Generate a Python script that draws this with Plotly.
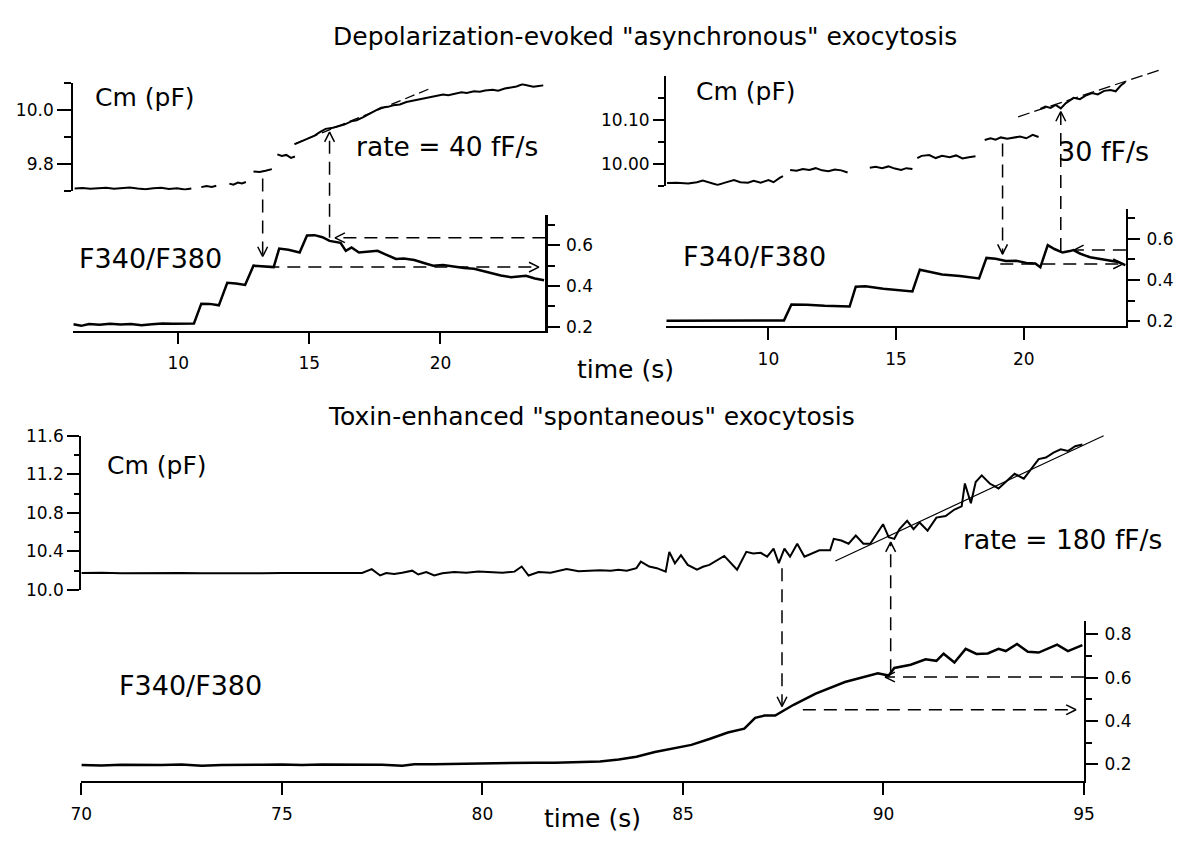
import plotly.graph_objects as go

W, H = 1184, 845
FONT = "DejaVu Sans"
INK = "black"

# ---------------- text ----------------
TITLE_TOP = 'Depolarization-evoked "asynchronous" exocytosis'
TITLE_BOTTOM = 'Toxin-enhanced "spontaneous" exocytosis'
TIME_LABEL = "time (s)"
CM_LABEL = "Cm (pF)"
F_LABEL = "F340/F380"
TL_RATE = "rate = 40 fF/s"
TR_RATE = "30 fF/s"
B_RATE = "rate = 180 fF/s"

# ---------------- top-left panel data (time s, value) ----------------
TL_CM_SEGMENTS = [
    [(6.05, 9.708), (6.35, 9.710), (6.65, 9.707), (6.95, 9.709), (7.25, 9.711), (7.55, 9.707),
     (7.85, 9.710), (8.15, 9.712), (8.45, 9.708), (8.75, 9.705), (9.05, 9.709), (9.35, 9.711),
     (9.65, 9.706), (9.95, 9.709), (10.25, 9.704), (10.50, 9.708)],
    [(10.88, 9.713), (11.08, 9.717), (11.28, 9.714), (11.45, 9.718)],
    [(11.95, 9.726), (12.10, 9.722), (12.28, 9.730), (12.43, 9.727), (12.58, 9.732)],
    [(12.87, 9.771), (13.10, 9.769), (13.33, 9.774), (13.57, 9.780)],
    [(13.78, 9.835), (13.95, 9.829), (14.12, 9.833), (14.30, 9.822), (14.45, 9.827)],
    [(14.45, 9.873), (14.70, 9.884), (14.91, 9.894), (15.20, 9.905), (15.40, 9.918), (15.62, 9.930),
     (15.90, 9.934), (16.10, 9.940), (16.33, 9.946), (16.60, 9.958), (16.80, 9.962), (17.04, 9.973),
     (17.30, 9.985), (17.50, 9.997), (17.74, 10.009), (18.00, 10.012), (18.20, 10.018), (18.45, 10.021),
     (18.70, 10.030), (18.90, 10.034), (19.16, 10.039), (19.40, 10.044), (19.60, 10.047), (19.86, 10.052),
     (20.10, 10.058), (20.30, 10.055), (20.57, 10.060), (20.80, 10.066), (21.00, 10.064), (21.28, 10.070),
     (21.50, 10.068), (21.70, 10.073), (21.99, 10.076), (22.20, 10.072), (22.45, 10.080), (22.69, 10.084),
     (22.90, 10.088), (23.12, 10.096), (23.30, 10.093), (23.54, 10.087), (23.75, 10.090), (23.92, 10.092)],
]
TL_CM_FIT = [(14.42, 9.873), (19.60, 10.080)]
TL_F = [
    (6.0, 0.212), (6.3, 0.204), (6.6, 0.213), (7.0, 0.210), (7.4, 0.214), (7.8, 0.211), (8.2, 0.213),
    (8.6, 0.207), (9.0, 0.212), (9.4, 0.215), (9.8, 0.214), (10.2, 0.215), (10.6, 0.216), (10.88, 0.313),
    (11.2, 0.312), (11.55, 0.305), (11.87, 0.416), (12.2, 0.412), (12.55, 0.405), (12.87, 0.500),
    (13.2, 0.498), (13.64, 0.493), (13.85, 0.584), (14.2, 0.578), (14.63, 0.565), (14.91, 0.648),
    (15.2, 0.650), (15.5, 0.640), (15.77, 0.622), (16.19, 0.612), (16.39, 0.573), (16.61, 0.590),
    (16.89, 0.565), (17.2, 0.568), (17.6, 0.573), (17.9, 0.556), (18.3, 0.533), (18.6, 0.535),
    (19.0, 0.528), (19.4, 0.512), (19.72, 0.500), (20.1, 0.503), (20.57, 0.493), (20.9, 0.488),
    (21.28, 0.485), (21.6, 0.474), (21.98, 0.460), (22.3, 0.452), (22.69, 0.443), (23.0, 0.447),
    (23.26, 0.450), (23.6, 0.437), (23.95, 0.428),
]
TL_V_ARROWS = [(13.22, 9.745, 0.545, "down"), (15.77, 9.918, 0.637, "up")]   # time, Cm end, F end
TL_H_ARROWS = [(0.637, 24.0, 15.98), (0.493, 13.36, 23.75)]                 # F level, from, tip
TL_T_TICKS = [10, 15, 20]
TL_CM_TICKS, TL_CM_TICKTEXT, TL_CM_MINOR = [9.8, 10.0], ["9.8", "10.0"], [9.7, 9.9, 10.1]
TL_F_TICKS, TL_F_TICKTEXT, TL_F_MINOR = [0.2, 0.4, 0.6], ["0.2", "0.4", "0.6"], [0.3, 0.5, 0.7]

# ---------------- top-right panel data ----------------
TR_CM_SEGMENTS = [
    [(6.03, 9.956), (6.40, 9.957), (6.86, 9.955), (7.20, 9.958), (7.43, 9.962), (7.70, 9.957),
     (8.01, 9.952), (8.30, 9.957), (8.65, 9.963), (8.90, 9.958), (9.20, 9.957), (9.42, 9.961),
     (9.70, 9.957), (10.00, 9.963), (10.20, 9.958), (10.44, 9.968), (10.57, 9.972)],
    [(10.85, 9.986), (11.10, 9.984), (11.35, 9.988), (11.60, 9.986), (11.85, 9.990), (12.10, 9.985),
     (12.35, 9.983), (12.60, 9.987), (12.85, 9.985), (13.10, 9.980)],
    [(13.97, 9.991), (14.20, 9.993), (14.45, 9.990), (14.70, 9.994), (14.95, 9.989), (15.20, 9.986),
     (15.40, 9.990), (15.64, 9.988)],
    [(15.83, 10.013), (16.00, 10.018), (16.30, 10.020), (16.55, 10.013), (16.80, 10.018), (17.10, 10.015),
     (17.35, 10.019), (17.60, 10.012), (17.85, 10.015), (18.11, 10.017)],
    [(18.47, 10.054), (18.70, 10.058), (18.90, 10.055), (19.10, 10.060), (19.35, 10.057), (19.60, 10.059),
     (19.85, 10.062), (20.10, 10.058), (20.35, 10.066), (20.58, 10.061)],
    [(20.65, 10.125), (20.85, 10.130), (21.05, 10.127), (21.25, 10.134), (21.45, 10.126), (21.65, 10.138),
     (21.95, 10.150), (22.20, 10.147), (22.45, 10.156), (22.68, 10.161), (22.90, 10.158), (23.15, 10.166),
     (23.40, 10.168), (23.60, 10.165), (23.80, 10.178), (23.98, 10.186)],
]
TR_CM_FIT = [(19.78, 10.107), (25.30, 10.213)]
TR_F = [
    (6.0, 0.203), (7.0, 0.203), (8.0, 0.204), (9.0, 0.203), (10.0, 0.204), (10.61, 0.205), (10.9, 0.282),
    (11.5, 0.281), (12.2, 0.276), (13.18, 0.272), (13.42, 0.368), (13.8, 0.370), (14.5, 0.358),
    (15.0, 0.352), (15.64, 0.345), (15.93, 0.450), (16.3, 0.440), (16.8, 0.427), (17.5, 0.420),
    (18.25, 0.408), (18.54, 0.507), (18.9, 0.503), (19.3, 0.492), (19.7, 0.493), (20.1, 0.483),
    (20.45, 0.480), (20.65, 0.462), (20.94, 0.569), (21.2, 0.550), (21.52, 0.533), (21.8, 0.540),
    (21.95, 0.545), (22.2, 0.528), (22.6, 0.510), (23.0, 0.502), (23.4, 0.494), (23.7, 0.487),
    (23.98, 0.472),
]
TR_V_ARROWS = [(19.17, 10.046, 0.525, "down"), (21.45, 10.119, 0.541, "up")]
TR_H_ARROWS = [(0.545, 24.0, 21.96), (0.478, 19.08, 23.89)]
TR_T_TICKS = [10, 15, 20]
TR_CM_TICKS, TR_CM_TICKTEXT, TR_CM_MINOR = [10.0, 10.1], ["10.00", "10.10"], [9.95, 10.05, 10.15]
TR_F_TICKS, TR_F_TICKTEXT, TR_F_MINOR = [0.2, 0.4, 0.6], ["0.2", "0.4", "0.6"], [0.3, 0.5, 0.7]

# ---------------- bottom panel data ----------------
B_CM = [
    (70.0, 10.175), (70.5, 10.178), (71.0, 10.172), (71.5, 10.176), (72.0, 10.174), (72.5, 10.177),
    (73.0, 10.172), (73.5, 10.175), (74.0, 10.178), (74.5, 10.174), (75.0, 10.176), (75.5, 10.173),
    (76.0, 10.177), (76.5, 10.175), (77.0, 10.176), (77.24, 10.216), (77.45, 10.150), (77.6, 10.175),
    (77.8, 10.165), (78.0, 10.178), (78.25, 10.200), (78.4, 10.160), (78.6, 10.185), (78.8, 10.150),
    (79.0, 10.172), (79.3, 10.185), (79.6, 10.178), (79.9, 10.190), (80.2, 10.185), (80.5, 10.178),
    (80.8, 10.190), (80.98, 10.243), (81.15, 10.150), (81.4, 10.185), (81.7, 10.178), (82.1, 10.216),
    (82.4, 10.195), (82.93, 10.203), (83.2, 10.198), (83.39, 10.209), (83.6, 10.200), (83.84, 10.226),
    (83.95, 10.294), (84.16, 10.243), (84.35, 10.226), (84.57, 10.190), (84.66, 10.395), (84.8, 10.277),
    (84.95, 10.360), (85.12, 10.260), (85.35, 10.210), (85.5, 10.240), (85.66, 10.260), (86.03, 10.353),
    (86.35, 10.210), (86.58, 10.395), (86.75, 10.378), (86.94, 10.385), (87.1, 10.345), (87.26, 10.428),
    (87.39, 10.277), (87.53, 10.428), (87.67, 10.345), (87.85, 10.479), (88.03, 10.345), (88.2, 10.378),
    (88.4, 10.412), (88.67, 10.412), (88.76, 10.530), (88.95, 10.513), (89.13, 10.479), (89.31, 10.564),
    (89.5, 10.479), (89.67, 10.479), (89.85, 10.598), (89.99, 10.682), (90.13, 10.547), (90.27, 10.530),
    (90.4, 10.631), (90.59, 10.716), (90.75, 10.631), (90.9, 10.700), (91.1, 10.615), (91.32, 10.750),
    (91.55, 10.766), (91.77, 10.834), (91.95, 10.867), (92.03, 11.104), (92.18, 10.900), (92.3, 11.120),
    (92.45, 11.188), (92.65, 11.104), (92.87, 11.053), (93.05, 11.120), (93.27, 11.205), (93.5, 11.154),
    (93.69, 11.256), (93.87, 11.357), (94.05, 11.374), (94.24, 11.424), (94.42, 11.458), (94.6, 11.441),
    (94.78, 11.491), (94.96, 11.508),
]
B_CM_FIT = [(88.80, 10.300), (95.49, 11.600)]
B_F = [
    (70.0, 0.197), (70.5, 0.195), (71.0, 0.198), (71.5, 0.196), (72.0, 0.197), (72.5, 0.199),
    (73.0, 0.194), (73.5, 0.197), (74.0, 0.199), (74.5, 0.198), (75.0, 0.199), (75.5, 0.197),
    (76.0, 0.199), (76.5, 0.198), (77.0, 0.200), (77.5, 0.198), (78.0, 0.194), (78.3, 0.201),
    (78.8, 0.200), (79.3, 0.202), (79.8, 0.204), (80.3, 0.206), (80.8, 0.207), (81.3, 0.208),
    (81.8, 0.208), (82.3, 0.209), (82.93, 0.213), (83.4, 0.222), (83.84, 0.235), (84.3, 0.257),
    (84.76, 0.272), (85.21, 0.290), (85.66, 0.317), (86.12, 0.347), (86.53, 0.365), (86.8, 0.415),
    (87.03, 0.425), (87.3, 0.425), (87.76, 0.475), (88.31, 0.527), (89.04, 0.580), (89.86, 0.620),
    (90.13, 0.610), (90.27, 0.645), (90.68, 0.660), (91.05, 0.685), (91.32, 0.678), (91.5, 0.711),
    (91.77, 0.670), (92.05, 0.733), (92.32, 0.710), (92.6, 0.712), (92.87, 0.733), (93.05, 0.723),
    (93.33, 0.756), (93.6, 0.720), (93.87, 0.716), (94.1, 0.735), (94.33, 0.753), (94.6, 0.723),
    (94.96, 0.750),
]
B_V_ARROWS = [(87.47, 10.226, 0.467, "down"), (90.18, 10.496, 0.625, "up")]
B_H_ARROWS = [(0.603, 95.0, 90.04), (0.452, 87.99, 94.80)]
B_T_TICKS = [70, 75, 80, 85, 90, 95]
B_CM_TICKS = [10.0, 10.4, 10.8, 11.2, 11.6]
B_CM_TICKTEXT = ["10.0", "10.4", "10.8", "11.2", "11.6"]
B_CM_MINOR = [10.2, 10.6, 11.0, 11.4]
B_F_TICKS, B_F_TICKTEXT, B_F_MINOR = [0.2, 0.4, 0.6, 0.8], ["0.2", "0.4", "0.6", "0.8"], [0.3, 0.5, 0.7]

# ---------------- panel geometry (pixels) ----------------
GEOM = {
    "TL": dict(t_range=(6, 24), x_px=(63.5, 544.5), cm_x_end_px=544.5,
               cm_range=(9.70, 10.10), cm_px=(185, 75),
               f_range=(0.18, 0.75), f_px=(328.5, 209.8),
               cm_len=(14, 7), f_len=(12, 7), t_len=11),
    "TR": dict(t_range=(6, 24), x_px=(667.7, 1136), cm_x_end_px=1180,
               cm_range=(9.95, 10.20), cm_px=(180, 67.5),
               f_range=(0.18, 0.745), f_px=(323.2, 203.5),
               cm_len=(11, 6), f_len=(12, 7), t_len=12),
    "B": dict(t_range=(70, 95), x_px=(71.7, 1093.3), cm_x_end_px=1130,
              cm_range=(10.0, 11.6), cm_px=(594, 436),
              f_range=(0.125, 0.86), f_px=(789.3, 626.2),
              cm_len=(12, 5), f_len=(12, 6), t_len=12),
}
FIT_PAD_PX = 40
TICK_FONT_SIZE = 17


def akey(letter, n):
    return f"{letter}axis" if n == 1 else f"{letter}axis{n}"


def aref(letter, n):
    return letter if n == 1 else f"{letter}{n}"


def lin(v, r, p):
    return p[0] + (v - r[0]) / (r[1] - r[0]) * (p[1] - p[0])


def axis_style(ticklen):
    return dict(showline=True, linecolor=INK, linewidth=2.2, ticks="outside", ticklen=ticklen,
                tickwidth=2, tickcolor=INK, showgrid=False, zeroline=False, fixedrange=True,
                tickfont=dict(family=FONT, size=TICK_FONT_SIZE, color=INK))


def minor_style(vals, ticklen):
    return dict(tickmode="array", tickvals=vals, ticks="outside", ticklen=ticklen, tickwidth=2,
                tickcolor=INK, showgrid=False)


def unzip(pairs):
    return [p[0] for p in pairs], [p[1] for p in pairs]


fig = go.Figure()
layout = {}
OVX, OVY = "x7", "y7"


def add_panel(n, g, cm_segments, cm_fit, fit_line, f_data, v_arrows, h_arrows,
              t_ticks, cm_ticks, cm_text, cm_minor, f_ticks, f_text, f_minor):
    n_cm, n_f, n_fit = 2 * n - 1, 2 * n, 7 + n
    r0, r1 = g["t_range"]
    p0, p1 = g["x_px"]
    ext = g["cm_x_end_px"]
    r1_ext = r0 + (ext - p0) / (p1 - p0) * (r1 - r0)
    # Cm subplot (hidden x axis, left y axis)
    layout[akey("x", n_cm)] = dict(domain=[p0 / W, ext / W], range=[r0, r1_ext], visible=False,
                                   anchor=aref("y", n_cm), fixedrange=True)
    ya = axis_style(g["cm_len"][0])
    ya.update(domain=[1 - g["cm_px"][0] / H, 1 - g["cm_px"][1] / H], range=list(g["cm_range"]),
              anchor=aref("x", n_cm), side="left", tickmode="array", tickvals=cm_ticks,
              ticktext=cm_text, minor=minor_style(cm_minor, g["cm_len"][1]))
    layout[akey("y", n_cm)] = ya
    # hidden axes for the fitted rate line (same Cm scale, room above the axis)
    pb, pt = g["cm_px"]
    c0, c1 = g["cm_range"]
    top_px = pt - FIT_PAD_PX
    c_top = c0 + (top_px - pb) / (pt - pb) * (c1 - c0)
    layout[akey("x", n_fit)] = dict(domain=[p0 / W, ext / W], range=[r0, r1_ext], visible=False,
                                    anchor=aref("y", n_fit), fixedrange=True)
    layout[akey("y", n_fit)] = dict(domain=[1 - pb / H, 1 - top_px / H], range=[c0, c_top],
                                    visible=False, anchor=aref("x", n_fit), fixedrange=True)
    # F subplot (bottom time axis, right y axis)
    xa = axis_style(g["t_len"])
    xa.update(domain=[p0 / W, p1 / W], range=[r0, r1], anchor=aref("y", n_f), side="bottom",
              tickmode="array", tickvals=t_ticks, ticklabelstandoff=5)
    layout[akey("x", n_f)] = xa
    fa = axis_style(g["f_len"][0])
    fa.update(domain=[1 - g["f_px"][0] / H, 1 - g["f_px"][1] / H], range=list(g["f_range"]),
              anchor=aref("x", n_f), side="right", tickmode="array", tickvals=f_ticks,
              ticktext=f_text, minor=minor_style(f_minor, g["f_len"][1]), ticklabelstandoff=3)
    layout[akey("y", n_f)] = fa

    # Cm trace (segments separated by gaps)
    xs, ys = [], []
    for seg in cm_segments:
        sx, sy = unzip(seg)
        xs += sx + [None]
        ys += sy + [None]
    fig.add_trace(go.Scatter(x=xs, y=ys, mode="lines", line=dict(color=INK, width=2),
                             connectgaps=False, hoverinfo="skip",
                             xaxis=aref("x", n_cm), yaxis=aref("y", n_cm)))
    fx, fy = unzip(cm_fit)
    fig.add_trace(go.Scatter(x=fx, y=fy, mode="lines", line=fit_line, hoverinfo="skip",
                             xaxis=aref("x", n_fit), yaxis=aref("y", n_fit)))
    # F trace
    tx, ty = unzip(f_data)
    fig.add_trace(go.Scatter(x=tx, y=ty, mode="lines", line=dict(color=INK, width=2.5),
                             hoverinfo="skip", xaxis=aref("x", n_f), yaxis=aref("y", n_f)))

    # dashed arrows linking the two traces (drawn on a full-figure pixel overlay)
    dash = dict(color=INK, width=1.5, dash="13px,8px")
    head = dict(color=INK, width=1.5)
    hl, hw = 10, 5
    for t, cm_v, f_v, direction in v_arrows:
        x = lin(t, g["t_range"], g["x_px"])
        y_cm = lin(cm_v, g["cm_range"], g["cm_px"])
        y_f = lin(f_v, g["f_range"], g["f_px"])
        if direction == "down":
            y_start, y_tip, s = y_cm, y_f, 1
        else:
            y_start, y_tip, s = y_f, y_cm, -1
        fig.add_trace(go.Scatter(x=[x, x], y=[y_start, y_tip], mode="lines", line=dash,
                                 hoverinfo="skip", xaxis=OVX, yaxis=OVY))
        fig.add_trace(go.Scatter(x=[x - hw, x, x + hw], y=[y_tip - s * hl, y_tip, y_tip - s * hl],
                                 mode="lines", line=head, hoverinfo="skip", xaxis=OVX, yaxis=OVY))
    for f_v, t_from, t_tip in h_arrows:
        y = lin(f_v, g["f_range"], g["f_px"])
        x_from = lin(t_from, g["t_range"], g["x_px"])
        x_tip = lin(t_tip, g["t_range"], g["x_px"])
        s = 1 if x_tip > x_from else -1
        fig.add_trace(go.Scatter(x=[x_from, x_tip], y=[y, y], mode="lines", line=dash,
                                 hoverinfo="skip", xaxis=OVX, yaxis=OVY))
        fig.add_trace(go.Scatter(x=[x_tip - s * hl, x_tip, x_tip - s * hl], y=[y - hw, y, y + hw],
                                 mode="lines", line=head, hoverinfo="skip", xaxis=OVX, yaxis=OVY))


add_panel(1, GEOM["TL"], TL_CM_SEGMENTS, TL_CM_FIT, dict(color=INK, width=1.3, dash="10px,5px"),
          TL_F, TL_V_ARROWS, TL_H_ARROWS, TL_T_TICKS, TL_CM_TICKS, TL_CM_TICKTEXT, TL_CM_MINOR,
          TL_F_TICKS, TL_F_TICKTEXT, TL_F_MINOR)
add_panel(2, GEOM["TR"], TR_CM_SEGMENTS, TR_CM_FIT, dict(color=INK, width=1.3, dash="12px,5px"),
          TR_F, TR_V_ARROWS, TR_H_ARROWS, TR_T_TICKS, TR_CM_TICKS, TR_CM_TICKTEXT, TR_CM_MINOR,
          TR_F_TICKS, TR_F_TICKTEXT, TR_F_MINOR)
add_panel(3, GEOM["B"], [B_CM], B_CM_FIT, dict(color=INK, width=1.2),
          B_F, B_V_ARROWS, B_H_ARROWS, B_T_TICKS, B_CM_TICKS, B_CM_TICKTEXT, B_CM_MINOR,
          B_F_TICKS, B_F_TICKTEXT, B_F_MINOR)

layout["xaxis7"] = dict(domain=[0, 1], range=[0, W], visible=False, anchor="y7", fixedrange=True)
layout["yaxis7"] = dict(domain=[0, 1], range=[H, 0], visible=False, anchor="x7", fixedrange=True)

annotations = []


def label(text, x, y, size, xanchor="left"):
    annotations.append(dict(text=text, x=x / W, y=1 - y / H, xref="paper", yref="paper",
                            showarrow=False, xanchor=xanchor, yanchor="middle",
                            font=dict(family=FONT, size=size, color=INK)))


label(TITLE_TOP, 646, 27, 25, "center")
label(TITLE_BOTTOM, 591, 416, 25, "center")
label(TIME_LABEL, 626, 368, 25, "center")
label(TIME_LABEL, 592, 828, 25, "center")
label(CM_LABEL, 84, 90, 25)
label(CM_LABEL, 696, 83, 25)
label(CM_LABEL, 96, 467, 25)
label(F_LABEL, 67, 255, 27)
label(F_LABEL, 683, 252, 27)
label(F_LABEL, 108, 692, 27)
label(TL_RATE, 350, 140, 26.5)
label(TR_RATE, 1065, 145, 27)
label(B_RATE, 968, 542, 26.5)

fig.update_layout(width=W, height=H, margin=dict(l=0, r=0, t=0, b=0, pad=0), showlegend=False,
                  paper_bgcolor="white", plot_bgcolor="rgba(0,0,0,0)", hovermode=False,
                  annotations=annotations, **layout)

fig.write_html("out.html", config={"displayModeBar": False, "staticPlot": True},
               post_script="document.body.style.margin='0';")
